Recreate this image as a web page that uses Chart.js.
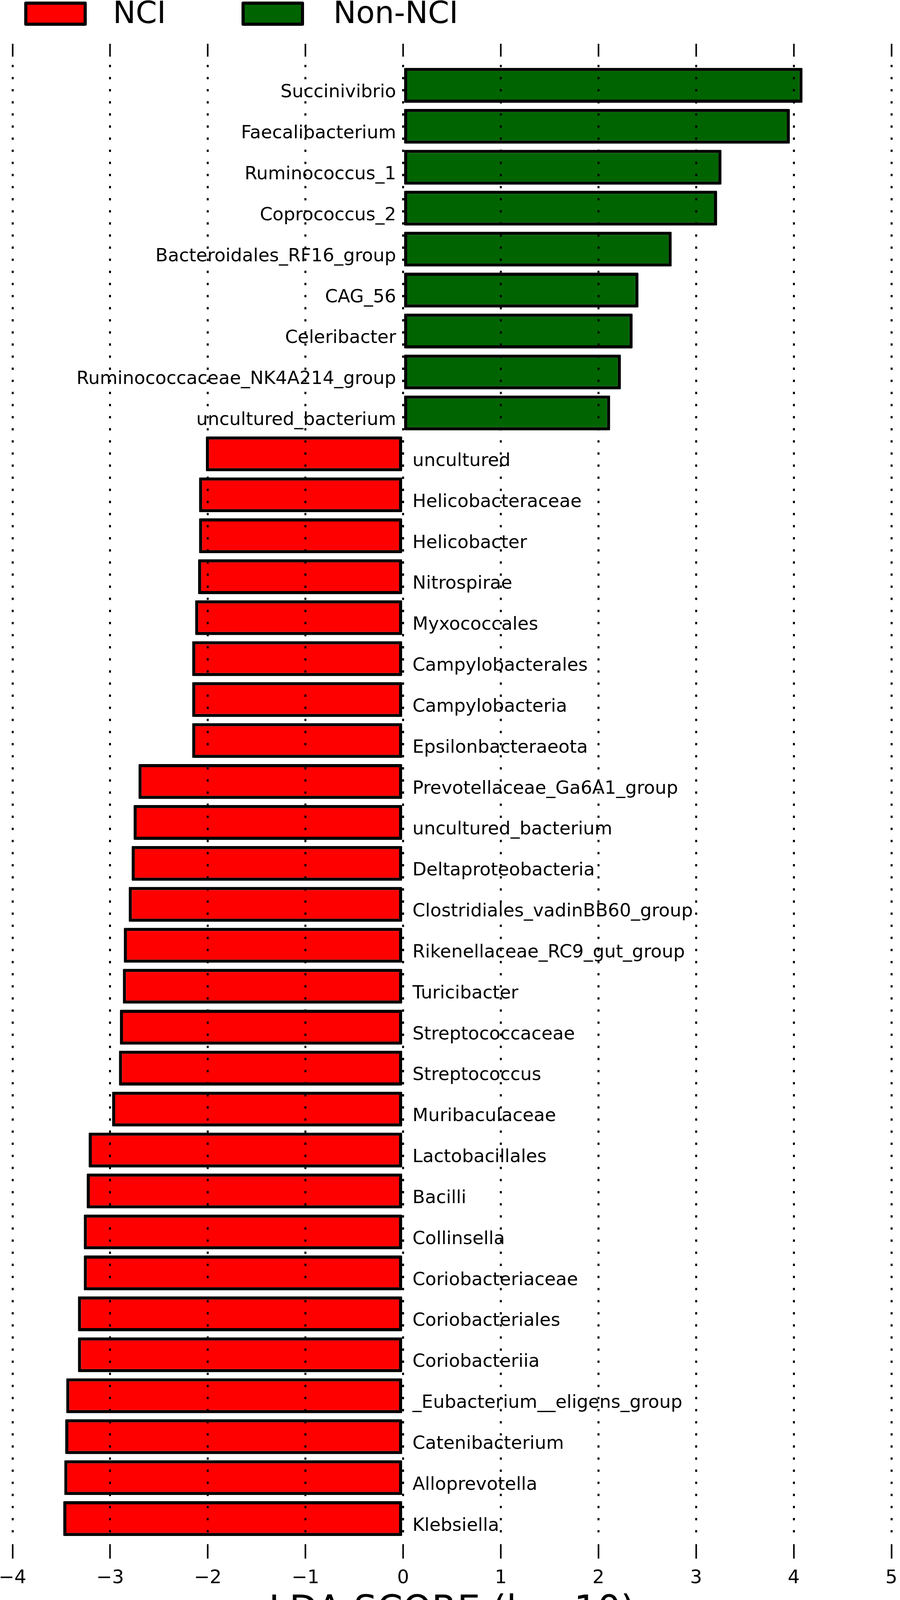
<!DOCTYPE html>
<html>
<head>
<meta charset="utf-8">
<script src="https://cdn.jsdelivr.net/npm/chart.js@4.4.0/dist/chart.umd.min.js"></script>
<style>
  html, body { margin: 0; padding: 0; background: #ffffff; overflow: hidden; }
  #wrap { width: 2303px; height: 4196px; position: relative; }
</style>
</head>
<body>
<div id="wrap"><canvas id="c"></canvas></div>
<script>
// ---------------- data ----------------
const categories = [
  'Succinivibrio', 'Faecalibacterium', 'Ruminococcus_1', 'Coprococcus_2',
  'Bacteroidales_RF16_group', 'CAG_56', 'Celeribacter', 'Ruminococcaceae_NK4A214_group',
  'uncultured_bacterium',
  'uncultured', 'Helicobacteraceae', 'Helicobacter', 'Nitrospirae', 'Myxococcales',
  'Campylobacterales', 'Campylobacteria', 'Epsilonbacteraeota', 'Prevotellaceae_Ga6A1_group',
  'uncultured_bacterium', 'Deltaproteobacteria', 'Clostridiales_vadinBB60_group',
  'Rikenellaceae_RC9_gut_group', 'Turicibacter', 'Streptococcaceae', 'Streptococcus',
  'Muribaculaceae', 'Lactobacillales', 'Bacilli', 'Collinsella', 'Coriobacteriaceae',
  'Coriobacteriales', 'Coriobacteriia', '_Eubacterium__eligens_group', 'Catenibacterium',
  'Alloprevotella', 'Klebsiella'
];

const nonNciValues = [
  4.09, 3.96, 3.26, 3.215, 2.75, 2.41, 2.35, 2.23, 2.12,
  null, null, null, null, null, null, null, null, null,
  null, null, null, null, null, null, null, null, null,
  null, null, null, null, null, null, null, null, null
];

const nciValues = [
  null, null, null, null, null, null, null, null, null,
  -2.02, -2.09, -2.09, -2.10, -2.13, -2.16, -2.16, -2.16, -2.71,
  -2.76, -2.78, -2.81, -2.86, -2.87, -2.90, -2.91, -2.98, -3.22,
  -3.24, -3.27, -3.27, -3.33, -3.33, -3.45, -3.46, -3.47, -3.48
];

const seriesNames = ['NCI', 'Non-NCI'];
const seriesColors = ['#ff0000', '#006400'];
const xTickValues = [-4, -3, -2, -1, 0, 1, 2, 3, 4, 5];
const xTitle = 'LDA SCORE (log 10)';

// ---------------- helpers ----------------
const FONT = '"DejaVu Sans", "Bitstream Vera Sans", sans-serif';

function setTicks(scale) {
  scale.ticks = xTickValues.map(v => ({ value: v }));
}
function tickText(v) {
  return v < 0 ? '\u2212' + Math.abs(v) : String(v);
}

const barLabelPlugin = {
  id: 'barLabels',
  afterDatasetsDraw(chart) {
    const { ctx } = chart;
    const x = chart.scales.x, y = chart.scales.y;
    const zero = x.getPixelForValue(0);
    ctx.save();
    ctx.font = '46.5px ' + FONT;
    ctx.fillStyle = '#000000';
    ctx.textBaseline = 'alphabetic';
    categories.forEach((name, i) => {
      const yc = y.getPixelForValue(i);
      const positive = nonNciValues[i] !== null;
      if (positive) {
        ctx.textAlign = 'right';
        ctx.fillText(name, zero - 18, yc + 31);
      } else {
        ctx.textAlign = 'left';
        ctx.fillText(name, zero + 24, yc + 31);
      }
    });
    ctx.restore();
  }
};

const legendPlugin = {
  id: 'topLegend',
  afterDraw(chart) {
    const { ctx } = chart;
    const items = [
      { box: 62, text: 289 },
      { box: 618, text: 853 }
    ];
    ctx.save();
    items.forEach((it, k) => {
      const ds = chart.data.datasets[k];
      ctx.fillStyle = ds.backgroundColor;
      ctx.fillRect(it.box + 4, 8, 152, 54);
      ctx.lineWidth = 8;
      ctx.strokeStyle = '#000000';
      ctx.lineJoin = 'round';
      ctx.strokeRect(it.box + 4, 8, 152, 54);
      ctx.fillStyle = '#000000';
      ctx.font = '78px ' + FONT;
      ctx.textAlign = 'left';
      ctx.textBaseline = 'alphabetic';
      ctx.fillText(ds.label, it.text, 59);
    });
    ctx.restore();
  }
};

// ---------------- chart ----------------
new Chart(document.getElementById('c'), {
  type: 'bar',
  data: {
    labels: categories,
    datasets: [
      {
        label: seriesNames[0],
        data: nciValues,
        backgroundColor: seriesColors[0],
        borderColor: '#000000',
        borderWidth: 8,
        borderSkipped: false,
        borderRadius: 2,
        grouped: false,
        barPercentage: 0.85,
        categoryPercentage: 1.0
      },
      {
        label: seriesNames[1],
        data: nonNciValues,
        backgroundColor: seriesColors[1],
        borderColor: '#000000',
        borderWidth: 8,
        borderSkipped: false,
        borderRadius: 2,
        grouped: false,
        barPercentage: 0.85,
        categoryPercentage: 1.0
      }
    ]
  },
  options: {
    indexAxis: 'y',
    responsive: true,
    maintainAspectRatio: false,
    devicePixelRatio: 1,
    animation: false,
    events: [],
    layout: { padding: { top: 112, left: 32, right: 22, bottom: 0 } },
    plugins: {
      legend: { display: false },
      tooltip: { enabled: false },
      title: { display: false }
    },
    scales: {
      y: {
        type: 'category',
        display: false,
        offset: true
      },
      x: {
        type: 'linear',
        position: 'bottom',
        min: -4,
        max: 5,
        afterBuildTicks: setTicks,
        afterFit(scale) { scale.height = 256; scale.paddingLeft = 0; scale.paddingRight = 0; },
        grid: {
          display: true,
          color: '#000000',
          lineWidth: 5,
          z: 1,
          drawOnChartArea: true,
          drawTicks: true,
          tickLength: 50,
          tickWidth: 4,
          tickColor: '#000000',
          tickBorderDash: [37, 13],
          tickBorderDashOffset: 37
        },
        border: { display: false, dash: [6, 25] },
        ticks: {
          color: '#000000',
          font: { family: FONT, size: 48 },
          padding: 22,
          maxRotation: 0,
          autoSkip: false,
          callback: (v) => tickText(v)
        },
        title: {
          display: true,
          text: xTitle,
          color: '#000000',
          font: { family: FONT, size: 94 },
          padding: { top: 0, bottom: 13 }
        }
      },
      x2: {
        type: 'linear',
        position: 'top',
        min: -4,
        max: 5,
        afterBuildTicks: setTicks,
        afterFit(scale) { scale.paddingLeft = 0; scale.paddingRight = 0; },
        grid: {
          display: true,
          drawOnChartArea: false,
          drawTicks: true,
          tickLength: 54,
          tickWidth: 4,
          tickColor: '#000000',
          tickBorderDash: [33, 200],
          z: 1
        },
        border: { display: false },
        ticks: { display: false }
      }
    }
  },
  plugins: [barLabelPlugin, legendPlugin]
});
</script>
</body>
</html>
